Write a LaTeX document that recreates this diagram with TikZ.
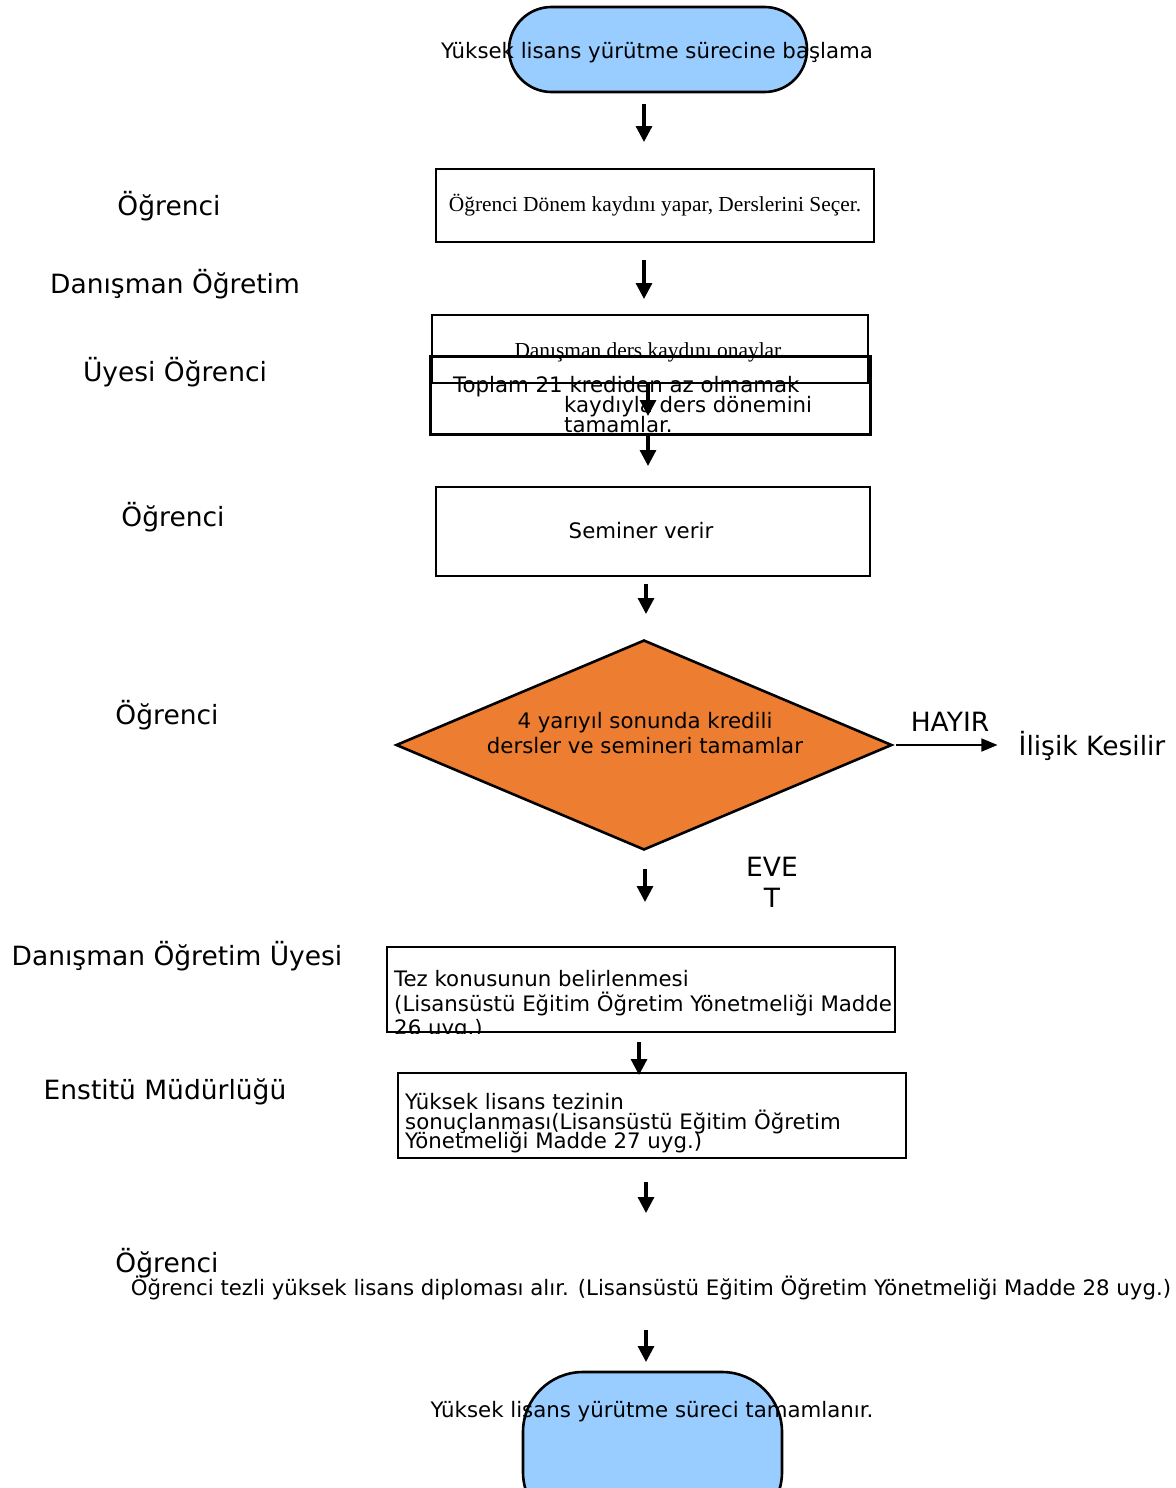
\documentclass[tikz,border=0pt]{standalone}
\usepackage{fontspec}
\setmainfont{DejaVu Sans}
\newfontfamily\timesfnt{Liberation Serif}
\usetikzlibrary{arrows.meta,shapes.misc,shapes.geometric}

\definecolor{termblue}{HTML}{99CCFF}
\definecolor{decorange}{HTML}{ED7D31}
\newcommand\tightlines{\fontsize{21.3}{19.6}\selectfont\lineskiplimit=-20pt\relax}

\begin{document}
\begin{tikzpicture}[x=1pt,y=-1pt,
  role/.style={font=\fontsize{26.5}{30}\selectfont,inner sep=0pt},
  txt/.style={font=\fontsize{21.3}{25}\selectfont,inner sep=0pt},
  tighttxt/.style={font=\tightlines,inner sep=0pt,align=left,anchor=west},
  sertxt/.style={font=\timesfnt\fontsize{21.4}{25}\selectfont,inner sep=0pt},
  stepbox/.style={draw,line width=2.6pt,inner sep=0pt},
  term/.style={draw,line width=2.6pt,fill=termblue,inner sep=0pt},
  arr/.style={-{Triangle[width=16pt,length=16pt]},line width=3.2pt},
  thinarr/.style={-{Triangle[width=13pt,length=16pt]},line width=1.5pt}]
\useasboundingbox (0,0) rectangle (1175,1488);

% roles on the left
\node[role] (r1) at (169,206) {Öğrenci};
\node[role] (r2) at (175,284) {Danışman Öğretim};
\node[role] (r3) at (175,372) {Üyesi Öğrenci};
\node[role] (r4) at (173,517) {Öğrenci};
\node[role] (r5) at (167,715) {Öğrenci};
\node[role] (r6) at (177,956) {Danışman Öğretim Üyesi};
\node[role] (r7) at (165,1092) {Enstitü Müdürlüğü};
\node[role] (r8) at (167,1263) {Öğrenci};

% flow
\node[term,rounded rectangle,minimum width=298,minimum height=85] (start) at (658,49.5) {};
\node[txt] (starttxt) at (657,52.5) {Yüksek lisans yürütme sürecine başlama};
\node[stepbox,minimum width=438,minimum height=73,sertxt] (kayit) at (655,205.5) {Öğrenci Dönem kaydını yapar, Derslerini Seçer.};
\node[stepbox,minimum width=436,minimum height=68] (onay) at (650,349) {};
\node[sertxt] (onaytxt) at (650,352) {Danışman ders kaydını onaylar.};
\node[stepbox,line width=3pt,minimum width=440,minimum height=78] (kredi) at (650,395) {};
\node[tighttxt] (kreditxt) at (453,404.5)
  {Toplam 21 krediden az olmamak\\\hspace*{111pt}kaydıyla ders dönemini\\\hspace*{111pt}tamamlar.};
\node[stepbox,minimum width=434,minimum height=89] (seminer) at (653,531.5) {};
\node[txt] (seminertxt) at (641,531) {Seminer verir};
\node[diamond,draw,line width=2.6pt,fill=decorange,minimum width=496,minimum height=210,aspect=2.36,inner sep=0pt] (dec) at (644,745) {};
\node[font=\fontsize{21.3}{25}\selectfont,inner sep=0pt,align=center] (dectxt) at (645,733) {4 yarıyıl sonunda kredili\\dersler ve semineri tamamlar};
\node[role] (hayir) at (950,722) {HAYIR};
\node[role] (kes) at (1092,746) {İlişik Kesilir};
\node[role,align=center,font=\fontsize{26.5}{31}\selectfont] (evet) at (772,882) {EVE\\T};
\node[stepbox,minimum width=508,minimum height=85] (tez) at (641,989.5) {};
\begin{scope}
  \clip (tez.south west) rectangle (tez.north east);
  \node[font=\fontsize{21.3}{24.5}\selectfont,inner sep=0pt,align=left,anchor=west] (teztxt) at (394,1005.5)
    {Tez konusunun belirlenmesi\\(Lisansüstü Eğitim Öğretim Yönetmeliği Madde\\26 uyg.)};
\end{scope}
\node[stepbox,minimum width=508,minimum height=85] (sonuc) at (652,1115.5) {};
\node[tighttxt] (sonuctxt) at (405,1123.5)
  {Yüksek lisans tezinin\\sonuçlanması(Lisansüstü Eğitim Öğretim\\Yönetmeliği Madde 27 uyg.)};
\node[txt] (diploma) at (651,1288) {Öğrenci tezli yüksek lisans diploması alır. (Lisansüstü Eğitim Öğretim Yönetmeliği Madde 28 uyg.)};
\node[term,rectangle,rounded corners=60pt,minimum width=259,minimum height=160] (finish) at (652.5,1452) {};
\node[txt] (finishtxt) at (652,1412) {Yüksek lisans yürütme süreci tamamlanır.};

% arrow ends
\coordinate (a1s) at (644,104);  \coordinate (a1e) at (644,142);
\coordinate (a2s) at (644,260);  \coordinate (a2e) at (644,299);
\coordinate (a3s) at (648,383);  \coordinate (a3e) at (648,416);
\coordinate (a4s) at (648,434);  \coordinate (a4e) at (648,466);
\coordinate (a5s) at (646,584);  \coordinate (a5e) at (646,614);
\coordinate (a6s) at (645,869);  \coordinate (a6e) at (645,902);
\coordinate (a7s) at (639,1042); \coordinate (a7e) at (639,1075);
\coordinate (a8s) at (646,1182); \coordinate (a8e) at (646,1213);
\coordinate (a9s) at (646,1330); \coordinate (a9e) at (646,1362);

\draw[arr] (a1s) -- (a1e);
\draw[arr] (a2s) -- (a2e);
\draw[arr] (a3s) -- (a3e);
\draw[arr] (a4s) -- (a4e);
\draw[arr] (a5s) -- (a5e);
\draw[arr] (a6s) -- (a6e);
\draw[arr] (a7s) -- (a7e);
\draw[arr] (a8s) -- (a8e);
\draw[arr] (a9s) -- (a9e);
\draw[thinarr,shorten <=3pt,shorten >=21pt] (dec.east) -- (dec.east -| kes.west);
\end{tikzpicture}
\end{document}
